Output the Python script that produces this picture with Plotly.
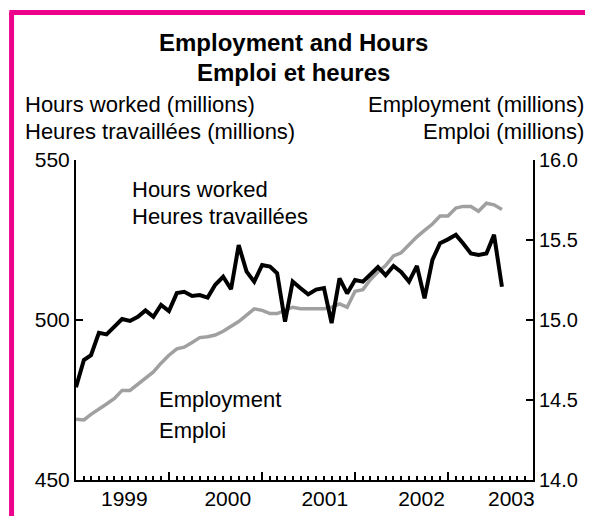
import pandas as pd
import plotly.graph_objects as go

months = pd.date_range("1999-01-01", "2003-08-01", freq="MS")

# hours worked, millions (left axis)
hours = [479, 487.5, 489, 496, 495.5, 498, 500.3, 499.7, 501, 503, 501, 504.7,
         502.8, 508.4, 508.8, 507.5, 507.8, 507, 511, 513.5, 509.6, 523.4, 515.1, 512,
         517.2, 516.7, 514.6, 499.5, 512, 509.9, 508, 509.5, 510, 499, 513, 508.3,
         512.5, 512, 514, 516.5, 514, 516.9, 515, 512, 516.9, 506.8, 518.8, 524,
         525.2, 526.6, 524, 520.8, 520.3, 520.8, 526.6, 510.4]

# employment, millions (right axis)
employment = [14.38, 14.375, 14.41, 14.44, 14.475, 14.51, 14.56, 14.56, 14.60, 14.64, 14.675, 14.73,
              14.78, 14.82, 14.83, 14.86, 14.89, 14.895, 14.906, 14.93, 14.96, 14.99, 15.03, 15.07,
              15.06, 15.04, 15.04, 15.06, 15.08, 15.07, 15.07, 15.07, 15.07, 15.08, 15.10, 15.08,
              15.18, 15.19, 15.25, 15.30, 15.34, 15.40, 15.42, 15.47, 15.52, 15.56, 15.60, 15.65,
              15.65, 15.70, 15.71, 15.71, 15.68, 15.73, 15.72, 15.69]

year_ticks = ["2000-01-01", "2001-01-01", "2002-01-01", "2003-01-01"]
month_ticks = [d.strftime("%Y-%m-%d") for d in pd.date_range("1999-02-01", "2003-11-01", freq="MS")]
year_label_pos = ["1999-07-10", "2000-08-19", "2001-09-04", "2002-09-19", "2003-09-07"]
year_labels = ["1999", "2000", "2001", "2002", "2003"]

FONT = "Liberation Sans, Arial, sans-serif"
PINK = "#EC008C"

fig = go.Figure()

fig.add_trace(go.Scatter(x=months, y=employment, mode="lines", xaxis="x", yaxis="y",
                         line=dict(color="#A0A0A0", width=3.5), name="Employment"))
fig.add_trace(go.Scatter(x=months, y=hours, mode="lines", xaxis="x2", yaxis="y2",
                         line=dict(color="black", width=4), name="Hours worked"))

# page body has an 8px margin, so the figure is 8px smaller than the window
# (ticklabelstandoff hides inside ticks, so y labels are spaced with unicode spaces)
fig.update_layout(
    width=585, height=508,
    margin=dict(l=68, r=60, t=152, b=36, autoexpand=False),
    paper_bgcolor="white", plot_bgcolor="white",
    showlegend=False,
    font=dict(family=FONT, size=21, color="black"),
    xaxis=dict(
        range=["1999-01-01", "2003-12-01"],
        showline=False, showgrid=False, zeroline=False,
        tickmode="array", tickvals=year_label_pos, ticktext=year_labels,
        ticks="", ticklabelstandoff=4,
    ),
    xaxis2=dict(
        range=["1999-01-01", "2003-12-01"], overlaying="x", anchor="y2", side="bottom",
        showline=True, linecolor="black", linewidth=2,
        showgrid=False, zeroline=False,
        tickmode="array", tickvals=year_ticks, ticks="inside", ticklen=8,
        tickwidth=2, tickcolor="black", showticklabels=False,
        minor=dict(tickmode="array", tickvals=month_ticks, ticks="inside", ticklen=4,
                   tickwidth=1.5, tickcolor="black", showgrid=False),
    ),
    yaxis=dict(
        range=[14.0, 16.0], side="right",
        tickmode="array", tickvals=[14.0, 14.5, 15.0, 15.5, 16.0],
        ticktext=["14.0", "14.5", "15.0", "15.5", "16.0"],
        ticks="inside", ticklen=7, tickwidth=2, tickcolor="black",
        tickfont=dict(size=20), tickprefix="\u2009",
        showline=True, linecolor="black", linewidth=2,
        showgrid=False, zeroline=False,
    ),
    yaxis2=dict(
        range=[450, 550], overlaying="y", side="left", anchor="x2",
        tickmode="array", tickvals=[450, 500, 550],
        ticks="inside", ticklen=7, tickwidth=2, tickcolor="black",
        ticksuffix="\u2002\u200a",
        showline=True, linecolor="black", linewidth=2,
        showgrid=False, zeroline=False,
    ),
)

# titles and axis captions
texts = [
    ("<b>Employment and Hours</b>", 0.477, 1.368, "center", 24),
    ("<b>Emploi et heures</b>", 0.477, 1.275, "center", 24),
    ("Hours worked (millions)", -0.115, 1.172, "left", 22),
    ("Heures travaillées (millions)", -0.115, 1.088, "left", 22),
    ("Employment (millions)", 1.117, 1.172, "right", 22),
    ("Emploi (millions)", 1.117, 1.088, "right", 22),
]
for t, x, y, anchor, size in texts:
    fig.add_annotation(text=t, x=x, y=y, xref="paper", yref="paper",
                       xanchor=anchor, yanchor="middle", showarrow=False,
                       font=dict(size=size))

# series labels inside plot
for t, x, y in [("Hours worked", "1999-08-01", 540.9), ("Heures travaillées", "1999-08-01", 532.2)]:
    fig.add_annotation(text=t, x=x, y=y, xref="x2", yref="y2", xanchor="left",
                       yanchor="middle", showarrow=False, font=dict(size=22))
for t, x, y in [("Employment", "1999-11-15", 14.506), ("Emploi", "1999-11-15", 14.31)]:
    fig.add_annotation(text=t, x=x, y=y, xref="x", yref="y", xanchor="left",
                       yanchor="middle", showarrow=False, font=dict(size=22))

# pink frame
fig.add_shape(type="line", xref="paper", yref="paper", x0=-0.141, x1=-0.141, y0=1.46, y1=-0.2,
              line=dict(color=PINK, width=5))
fig.add_shape(type="line", xref="paper", yref="paper", x0=-0.146, x1=1.2, y0=1.4609, y1=1.4609,
              line=dict(color=PINK, width=5))

fig.write_html("out.html")
